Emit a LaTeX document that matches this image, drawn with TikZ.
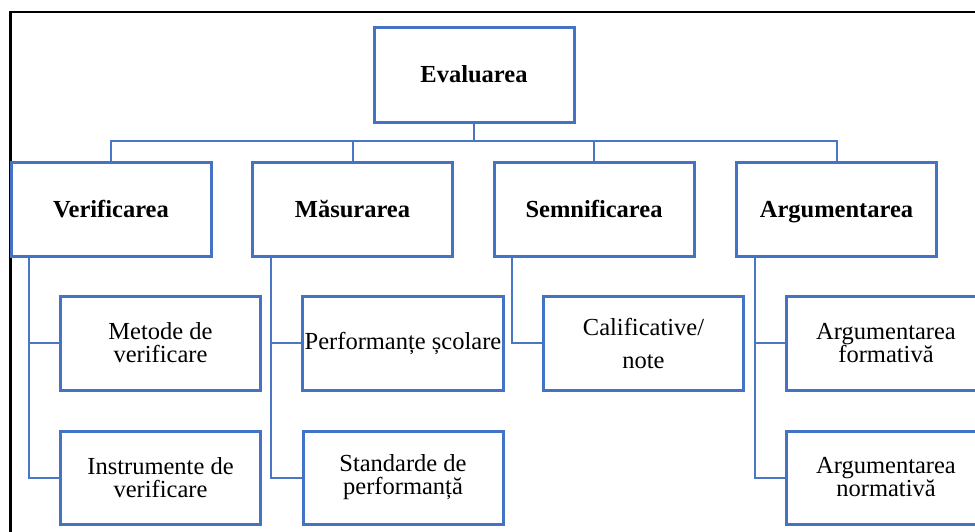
\documentclass[tikz,border=0pt]{standalone}
\usepackage{fontspec}
\setmainfont{Liberation Serif}
\definecolor{boxblue}{HTML}{4472C4}
\definecolor{linkblue}{HTML}{4A76C6}
\begin{document}
\begin{tikzpicture}[x=1pt,y=-1pt,
  box/.style={draw=boxblue, line width=3pt, fill=white, rectangle,
    minimum width=200pt, minimum height=94pt, inner sep=2pt, align=center,
    font=\fontsize{24.5}{23}\selectfont},
  headbox/.style={box, font=\fontsize{24.5}{23}\selectfont\bfseries,
    text height=19pt, text depth=3pt},
  link/.style={draw=linkblue, line width=2pt},
  frame/.style={draw=black, line width=2.5pt}]
\useasboundingbox (0,0) rectangle (975,531);
\clip (0,0) rectangle (975,531);

% outer frame
\draw[frame] (10.7,540) -- (10.7,12) -- (985,12);

% root and first level
\node[headbox, minimum height=95pt] (eval) at (474,74.5) {Evaluarea};
\node[headbox] (verif) at (111,209) {Verificarea};
\node[headbox] (mas)   at (352.5,209) {Măsurarea};
\node[headbox] (sem)   at (594,209) {Semnificarea};
\node[headbox] (arg)   at (836.5,209) {Argumentarea};

% second level
\node[box] (metode) at (160.5,343) {Metode de\\verificare};
\node[box, minimum height=93pt] (instr) at (160.5,477.5) {Instrumente de\\verificare};
\node[box] (perf) at (403,343) {Performanțe școlare};
\node[box, minimum height=93pt] (std) at (403,477.5) {Standarde de\\performanță};
\node[box, font=\fontsize{24.5}{33}\selectfont] (calif) at (643.5,343) {Calificative/\\note};
\node[box] (argf) at (886,343) {Argumentarea\\formativă};
\node[box, minimum height=93pt] (argn) at (886,477.5) {Argumentarea\\normativă};

% bus below the root
\coordinate (bus) at (0,141);
\draw[link] (eval.south) -- (eval.south |- bus);
\draw[link] (verif.north) -- (verif.north |- bus) -- (arg.north |- bus) -- (arg.north);
\draw[link] (mas.north) -- (mas.north |- bus);
\draw[link] (sem.north) -- (sem.north |- bus);

% side rails to the second level
\coordinate (rv) at ([xshift=19pt]verif.south west);
\coordinate (rm) at ([xshift=20pt]mas.south west);
\coordinate (rs) at ([xshift=19pt]sem.south west);
\coordinate (ra) at ([xshift=20pt]arg.south west);
\draw[link] (rv) |- (metode.west);
\draw[link] (rv) |- (instr.west);
\draw[link] (rm) |- (perf.west);
\draw[link] (rm) |- (std.west);
\draw[link] (rs) |- (calif.west);
\draw[link] (ra) |- (argf.west);
\draw[link] (ra) |- (argn.west);
\end{tikzpicture}
\end{document}
